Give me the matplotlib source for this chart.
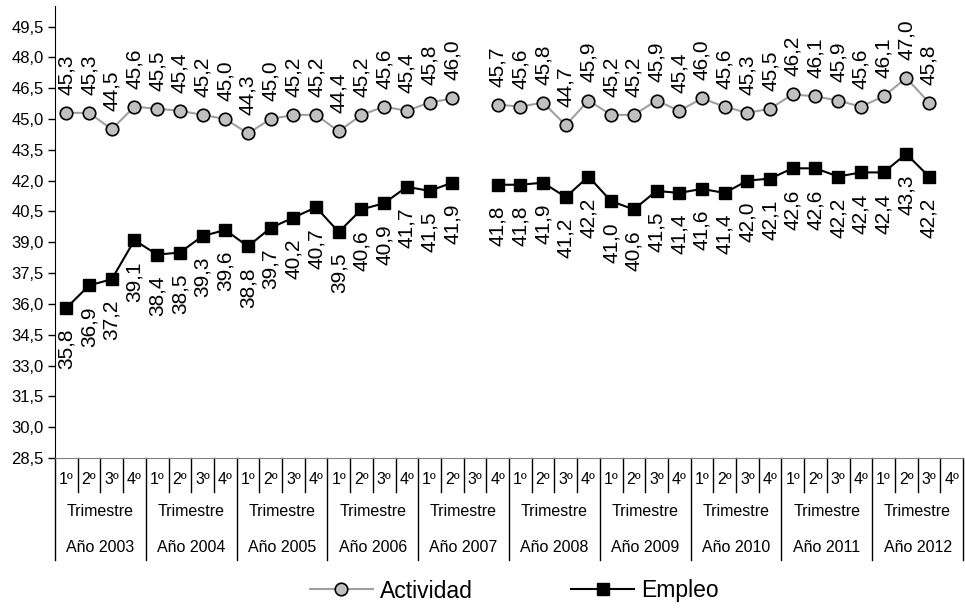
import numpy as np
import matplotlib
matplotlib.use("Agg")
import matplotlib.pyplot as plt
from matplotlib.transforms import blended_transform_factory

plt.rcParams["font.family"] = ["Liberation Sans", "DejaVu Sans"]

years = ["Año 2003", "Año 2004", "Año 2005", "Año 2006", "Año 2007",
         "Año 2008", "Año 2009", "Año 2010", "Año 2011", "Año 2012"]
quarters = ["1º", "2º", "3º", "4º"]
period_label = "Trimestre"

nan = np.nan
actividad = [45.3, 45.3, 44.5, 45.6,
             45.5, 45.4, 45.2, 45.0,
             44.3, 45.0, 45.2, 45.2,
             44.4, 45.2, 45.6, 45.4,
             45.8, 46.0, nan, 45.7,
             45.6, 45.8, 44.7, 45.9,
             45.2, 45.2, 45.9, 45.4,
             46.0, 45.6, 45.3, 45.5,
             46.2, 46.1, 45.9, 45.6,
             46.1, 47.0, 45.8, nan]
empleo = [35.8, 36.9, 37.2, 39.1,
          38.4, 38.5, 39.3, 39.6,
          38.8, 39.7, 40.2, 40.7,
          39.5, 40.6, 40.9, 41.7,
          41.5, 41.9, nan, 41.8,
          41.8, 41.9, 41.2, 42.2,
          41.0, 40.6, 41.5, 41.4,
          41.6, 41.4, 42.0, 42.1,
          42.6, 42.6, 42.2, 42.4,
          42.4, 43.3, 42.2, nan]

n = len(actividad)
x = np.arange(n) + 0.5

fig = plt.figure(figsize=(9.65, 6.08), dpi=100)
ax = fig.add_axes([55/965, 1-458/608, (963-55)/965, (458-6)/608])

ax.plot(x, actividad, color="#a0a0a0", lw=1.5, marker="o", ms=9,
        mfc="#c0c0c0", mec="black", mew=1.2, label="Actividad", zorder=3)
ax.plot(x, empleo, color="black", lw=1.5, marker="s", ms=8,
        mfc="black", mec="black", label="Empleo", zorder=3)

def fmt(v):
    return f"{v:.1f}".replace(".", ",")

for xi, v in zip(x, actividad):
    if not np.isnan(v):
        ax.annotate(fmt(v), (xi, v), xytext=(0, 13), textcoords="offset points",
                    rotation=90, ha="center", va="bottom", fontsize=15)
for xi, v in zip(x, empleo):
    if not np.isnan(v):
        ax.annotate(fmt(v), (xi, v), xytext=(0, -15), textcoords="offset points",
                    rotation=90, ha="center", va="top", fontsize=15)

yt = np.arange(28.5, 49.6, 1.5)
ax.set_ylim(28.5, 50.5)
ax.set_yticks(yt)
ax.set_yticklabels([fmt(v) for v in yt], fontsize=12)
ax.tick_params(axis="y", direction="out", length=5, width=1, pad=3)
ax.set_xlim(0, n)
ax.set_xticks([])
for s in ["top", "right"]:
    ax.spines[s].set_visible(False)
ax.spines["bottom"].set_color("#808080")
ax.spines["left"].set_color("black")

# multi-level category axis
tr = blended_transform_factory(ax.transData, fig.transFigure)
y_axis = 1 - 458/608
y_q = 1 - 480/608
y_t = 1 - 512/608
y_y = 1 - 547/608
y_short = 1 - 492/608
y_long = 1 - 560/608

for i in range(n):
    ax.text(x[i], y_q, quarters[i % 4], transform=tr, ha="center", va="center",
            fontsize=11.5, clip_on=False)
for k, yr in enumerate(years):
    cx = 4*k + 2
    ax.text(cx, y_t, period_label, transform=tr, ha="center", va="center",
            fontsize=11.5, clip_on=False)
    ax.text(cx, y_y, yr, transform=tr, ha="center", va="center",
            fontsize=11.5, clip_on=False)
for i in range(n + 1):
    y_end = y_long if i % 4 == 0 else y_short
    ax.plot([i, i], [y_axis, y_end], transform=tr, color="black", lw=1,
            clip_on=False)

fig.legend(loc="center", bbox_to_anchor=(0.533, 1-591/608), ncol=2,
           frameon=False, fontsize=16.5, handlelength=2.75,
           handletextpad=0.3, columnspacing=4.3)

fig.savefig("out.png", dpi=100)
